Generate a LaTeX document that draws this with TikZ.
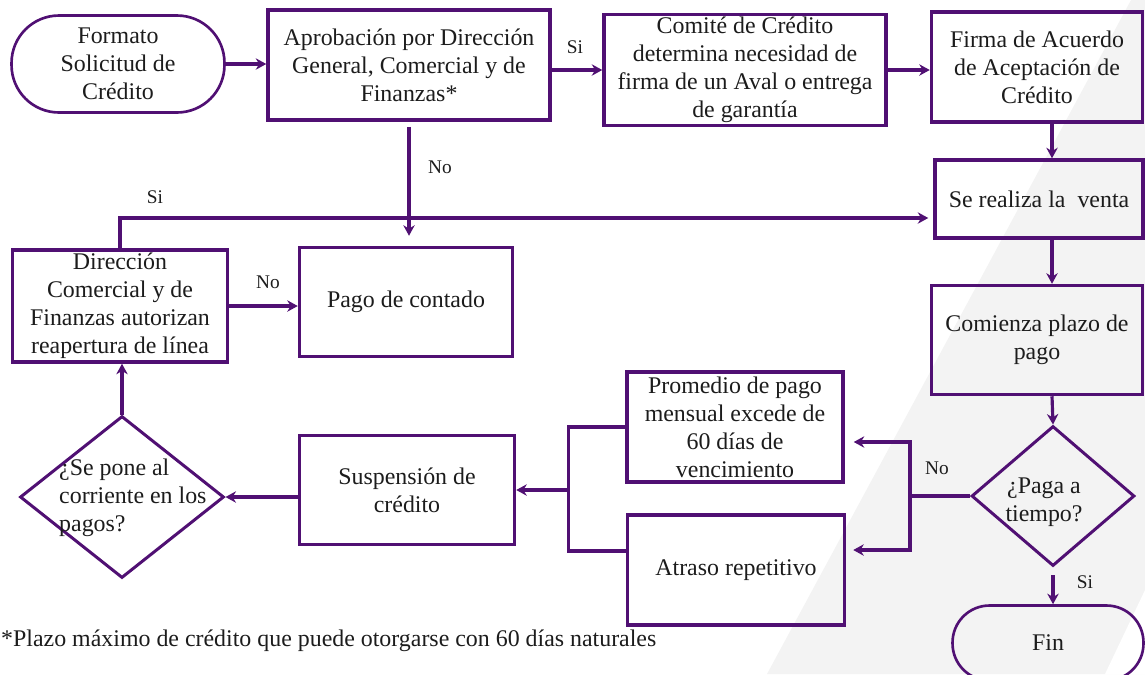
\documentclass[tikz,border=0pt]{standalone}
\usepackage{fontspec}
\setmainfont{Liberation Serif}
\usetikzlibrary{arrows.meta,shapes.geometric,positioning,calc}
\definecolor{morado}{RGB}{80,16,115}
\definecolor{texto}{RGB}{28,28,28}
\definecolor{fondo}{RGB}{243,243,243}

\begin{document}
\begin{tikzpicture}[x=0.02cm,y=-0.02cm,
  font=\fontsize{13.6}{15.9}\selectfont, text=texto,
  caja/.style={draw=morado,line width=2pt,align=center,inner sep=0pt},
  terminal/.style={draw=morado,line width=1.5pt,align=center,rounded corners=0.95cm},
  rombo/.style={draw=morado,line width=1.7pt,diamond,inner sep=0pt},
  linea/.style={draw=morado,line width=1.8pt},
  flecha/.style={linea,-{Stealth[length=6pt,width=6.5pt]}},
  etiq/.style={font=\fontsize{11}{13}\selectfont}]
	\useasboundingbox (0,0) rectangle (1145,674);
	% faint background
	\fill[fondo] (767,674) -- (1131,0) -- (1145,0) -- (1145,674) -- cycle;
	\fill[white] (1105,674) -- (1145,590) -- (1145,674) -- cycle;

	% top row
	\node[terminal,minimum width=4.26cm,minimum height=1.94cm] (solicitud) at (118,64) {Formato\\Solicitud de\\Crédito};
	\node[caja,minimum width=5.64cm,minimum height=2.2cm] (aprob) at (409,65) {Aprobación por Dirección\\General, Comercial y de\\Finanzas*};
	\node[caja,minimum width=5.64cm,minimum height=2.22cm] (comite) at (745,70) {Comité de Crédito\\determina necesidad de\\firma de un Aval o entrega\\de garantía};
	\node[caja,minimum width=4.22cm,minimum height=2.2cm] (firma) at (1037,67) {Firma de Acuerdo\\de Aceptación de\\Crédito};

	% right column
	\node[caja,minimum width=4.16cm,minimum height=1.56cm] (venta) at (1039,199) {Se realiza la\ \ venta};
	\node[caja,minimum width=4.22cm,minimum height=2.18cm] (comienza) at (1037,340) {Comienza plazo de\\pago};
	\node[rombo,minimum width=3.26cm,minimum height=2.8cm] (paga) at (1053,496) {};
	\node[align=center] (pagatxt) at (1044,502) {¿Paga a\\tiempo?};
	\node[terminal,rounded corners=0.74cm,minimum width=3.82cm,minimum height=1.5cm] (fin) at (1048,643) {Fin};

	% middle and left
	\node[caja,minimum width=4.32cm,minimum height=2.2cm] (promedio) at (735,427) {Promedio de pago\\mensual excede de\\60 días de\\vencimiento};
	\node[caja,minimum width=4.34cm,minimum height=2.2cm] (atraso) at (736,570) {Atraso repetitivo};
	\node[caja,minimum width=4.3cm,minimum height=2.18cm] (suspension) at (407,490) {Suspensión de\\crédito};
	\node[rombo,minimum width=4.08cm,minimum height=3.24cm] (pone) at (122,497) {};
	\node[align=left,anchor=west] (ponetxt) at (53,498) {¿Se pone al\\corriente en los\\pagos?};
	\node[caja,minimum width=4.3cm,minimum height=2.24cm] (direccion) at (120,306) {Dirección\\Comercial y de\\Finanzas autorizan\\reapertura de línea};
	\node[caja,minimum width=4.26cm,minimum height=2.18cm] (contado) at (406,302) {Pago de contado};

	\node[anchor=west] (nota) at (-5,641) {*Plazo máximo de crédito que puede otorgarse con 60 días naturales};

	% labels
	\node[etiq] (siaprob) at (575,47) {Si};
	\node[etiq] (noaprob) at (440,167) {No};
	\node[etiq] (sidir) at (155,197) {Si};
	\node[etiq] (nodir) at (268,282) {No};
	\node[etiq] (nopaga) at (937,468) {No};
	\node[etiq] (sipaga) at (1085,582) {Si};

	% connectors
	\coordinate (eje) at (1052,0);
	\draw[flecha] (solicitud.east) -- (aprob.west |- solicitud.east);
	\draw[flecha] (aprob.east |- comite) -- (comite.west);
	\draw[flecha] (comite.east) -- (firma.west |- comite.east);
	\draw[flecha] (firma.south -| eje) -- (venta.north -| eje);
	\draw[flecha] (venta.south -| eje) -- (comienza.north -| eje);
	\draw[flecha] (comienza.south -| eje) -- (paga.north);
	\draw[flecha,shorten <=0.16cm] (paga.south) -- (paga.south |- fin.north);
	\draw[flecha,shorten <=0.1cm,shorten >=0.2cm] (aprob.south) -- (aprob.south |- contado.north);
	\draw[flecha] (direccion.north) |- ([xshift=-0.1cm,yshift=-0.38cm]venta.west);
	\draw[flecha] (direccion.east) -- (contado.west |- direccion.east);

	\draw[linea] (paga.west) -- ++(-60,0) coordinate (bifd);
	\draw[flecha] (bifd) |- ([xshift=0.18cm,yshift=-0.3cm]promedio.east);
	\draw[flecha] (bifd) |- ([xshift=0.14cm,yshift=0.4cm]atraso.east);

	\draw[linea] (promedio.west) -- ++(-57,0) coordinate (bifi) |- ([yshift=0.38cm]atraso.west);
	\draw[flecha] (bifi |- suspension.east) -- (suspension.east);
	\draw[flecha] (suspension.west |- pone.east) -- (pone.east);
	\draw[flecha] (pone.north) -- (pone.north |- direccion.south);
\end{tikzpicture}
\end{document}
